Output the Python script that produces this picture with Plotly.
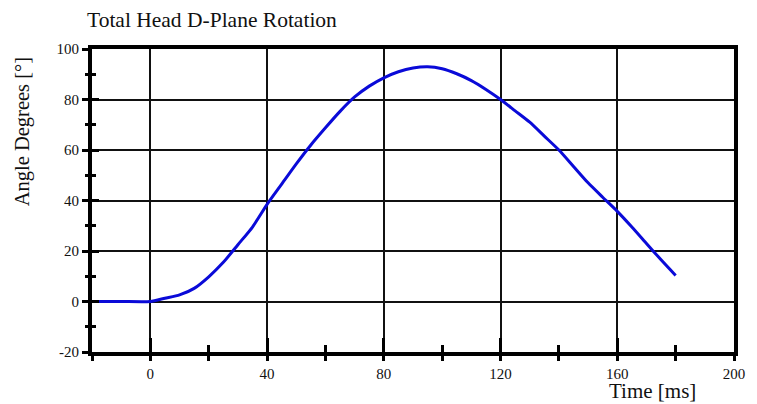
import plotly.graph_objects as go

# Data
time_ms = [-20, -10, 0, 5, 10, 15, 20, 25, 30, 35, 40, 45, 50, 55, 60, 65, 70, 75, 80,
           85, 90, 95, 100, 105, 110, 115, 120, 125, 130, 135, 140, 145, 150, 155, 160,
           165, 170, 175, 180]
angle_deg = [0, 0, 0, 1.3, 2.6, 5.2, 9.8, 15.5, 22.5, 29.5, 38.5, 46.5, 54.5, 62, 68.8,
             75.3, 81, 85.3, 88.6, 91, 92.5, 93, 92.2, 90.2, 87.5, 84, 80, 75.5, 71,
             65.5, 60, 53.5, 47, 41.3, 35.7, 29.5, 23, 16.5, 10.3]

x_ticks = [0, 40, 80, 120, 160, 200]
x_ticktext = ["0", "40", "80", "120", "160", "200"]
y_ticks = [-20, 0, 20, 40, 60, 80, 100]
y_ticktext = ["-20", "0", "20", "40", "60", "80", "100"]

TITLE = "Total Head D-Plane Rotation"
Y_TITLE = "Angle Degrees [°]"
X_TITLE = "Time [ms]"

FONT = "Liberation Serif, Times New Roman, serif"
X_RANGE = [-20, 200]
Y_RANGE = [-20, 100]

fig = go.Figure()
fig.add_trace(go.Scatter(x=time_ms, y=angle_deg, mode="lines",
                         line=dict(color="#0a0ad8", width=3, shape="spline", smoothing=0.6),
                         showlegend=False, hoverinfo="skip"))
# dummy trace for the overlay axes (inside tick marks)
fig.add_trace(go.Scatter(x=[], y=[], xaxis="x2", yaxis="y2", showlegend=False))

fig.update_layout(
    width=757, height=404,
    margin=dict(l=92, r=15, t=49, b=52),
    paper_bgcolor="white", plot_bgcolor="white",
    font=dict(family=FONT, color="#111", size=15),
    title=dict(text=TITLE, font=dict(family=FONT, size=21.5, color="#111"),
               xref="container", yref="container", x=87/757, xanchor="left",
               y=1 - 19/404, yanchor="middle"),
    xaxis=dict(range=X_RANGE, autorange=False, tickvals=x_ticks, ticktext=x_ticktext,
               ticks="outside", ticklen=5, tickwidth=3, tickcolor="black",
               showline=True, linewidth=4, linecolor="black", mirror=True,
               showgrid=True, gridcolor="#111", gridwidth=1.5, zeroline=False,
               tickfont=dict(family=FONT, size=15, color="#111"),
               ticklabelstandoff=0,
               minor=dict(tickvals=[-20, 20, 60, 100, 140, 180], ticks="outside",
                          ticklen=5, tickwidth=3, tickcolor="black", showgrid=False)),
    yaxis=dict(range=Y_RANGE, autorange=False, tickvals=y_ticks, ticktext=y_ticktext,
               ticks="outside", ticklen=6, tickwidth=3, tickcolor="black",
               showline=True, linewidth=4, linecolor="black", mirror=True,
               showgrid=True, gridcolor="#111", gridwidth=1.5, zeroline=False,
               tickfont=dict(family=FONT, size=15, color="#111"),
               ticklabelstandoff=0,
               minor=dict(tickvals=[-10, 10, 30, 50, 70, 90], ticks="outside",
                          ticklen=3, tickwidth=3, tickcolor="black", showgrid=False)),
    xaxis2=dict(range=X_RANGE, autorange=False, overlaying="x", anchor="y2",
                side="bottom", tickvals=[0, 40, 80, 120, 160], ticks="inside",
                ticklen=14, tickwidth=3, tickcolor="black", showticklabels=False,
                showgrid=False, showline=False, zeroline=False,
                minor=dict(tickvals=[20, 60, 100, 140, 180], ticks="inside",
                           ticklen=7, tickwidth=3, tickcolor="black", showgrid=False)),
    yaxis2=dict(range=Y_RANGE, autorange=False, overlaying="y", anchor="x2",
                side="left", tickvals=[0, 20, 40, 60, 80], ticks="inside",
                ticklen=7, tickwidth=3, tickcolor="black", showticklabels=False,
                showgrid=False, showline=False, zeroline=False,
                minor=dict(tickvals=[-10, 10, 30, 50, 70, 90], ticks="inside",
                           ticklen=4, tickwidth=3, tickcolor="black", showgrid=False)),
    annotations=[
        dict(text=Y_TITLE, textangle=-90, xref="paper", yref="paper",
             x=(22 - 92.5) / 649.5, y=(352 - 132) / 303, xanchor="center",
             yanchor="middle", showarrow=False,
             font=dict(family=FONT, size=20.5, color="#111")),
        dict(text=X_TITLE, xref="paper", yref="paper",
             x=(660 - 92.5) / 649.5, y=-(404 - 352) / 303, xanchor="center",
             yanchor="bottom", showarrow=False, borderpad=0,
             font=dict(family=FONT, size=21, color="#111")),
    ],
)

fig.write_html("out.html", config={"displayModeBar": False},
               post_script="document.body.style.margin='0';document.body.style.overflow='hidden';")
